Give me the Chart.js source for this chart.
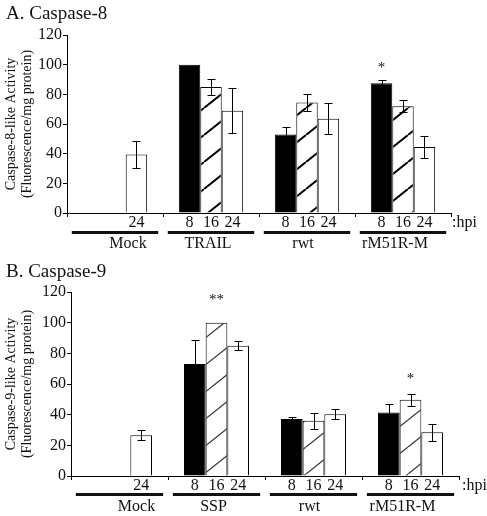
<!DOCTYPE html>
<html>
<head>
<meta charset="utf-8">
<script src="https://cdn.jsdelivr.net/npm/chart.js@4.4.1/dist/chart.umd.min.js"></script>
<style>
  body { margin: 0; background: #fff; }
  canvas { position: absolute; left: 0; }
</style>
</head>
<body>
<canvas id="chartA" width="487" height="258" style="top:0"></canvas>
<canvas id="chartB" width="487" height="258" style="top:258px"></canvas>
<script>
// hours post infection for the three bars of each group
var hpi = ["8", "16", "24"];

// A. Caspase-8
var groupsA = ["Mock", "TRAIL", "rwt", "rM51R-M"];
var a8 = [null, 100, 53, 87.5];
var a16 = [null, 85, 74.5, 72];
var a24 = [39.5, 69, 63.5, 44.5];
var a8Err = [null, null, 5, 2.5];
var a16Err = [null, 5.5, 6, 4];
var a24Err = [9.3, 15, 10.5, 7.5];
var starsA = [{ group: 3, bar: 0, text: "*", value: 100 }];

// B. Caspase-9
var groupsB = ["Mock", "SSP", "rwt", "rM51R-M"];
var b8 = [null, 73, 37.2, 41.4];
var b16 = [null, 100, 36, 49.7];
var b24 = [26.6, 85, 40.3, 28.5];
var b8Err = [null, 16, 1, 5.6];
var b16Err = [null, null, 5.4, 4];
var b24Err = [3.3, 3, 3.3, 5.4];
var starsB = [
  { group: 1, bar: 1, text: "**", value: 117 },
  { group: 3, bar: 1, text: "*", value: 65 }
];

var yTicks = [0, 20, 40, 60, 80, 100, 120];
var serif = "'Liberation Serif', 'DejaVu Serif', serif";

// diagonal hatch used for the 16 hpi bars
function hatch(lineW, color) {
  var c = document.createElement("canvas");
  c.width = 34;
  c.height = 27;
  var g = c.getContext("2d");
  g.fillStyle = "#fff";
  g.fillRect(0, 0, 34, 27);
  g.strokeStyle = color;
  g.lineWidth = lineW;
  g.beginPath();
  [-34, 0, 34].forEach(function (dx) {
    g.moveTo(dx, 27);
    g.lineTo(dx + 34, 0);
  });
  g.stroke();
  return g.createPattern(c, "repeat");
}

// error bars, hpi labels, group bars, titles
var extras = {
  id: "extras",
  afterDatasetsDraw: function (chart) {
    var o = chart.options.plugins.extras;
    var ctx = chart.ctx;
    var y = chart.scales.y;
    ctx.save();
    ctx.strokeStyle = "#000";
    ctx.lineWidth = 1;
    o.errors.forEach(function (errs, i) {
      var meta = chart.getDatasetMeta(i);
      var vals = chart.data.datasets[i].data;
      errs.forEach(function (e, j) {
        if (e == null || vals[j] == null) return;
        var x = Math.round(meta.data[j].x) + 0.5;
        var y1 = Math.round(y.getPixelForValue(vals[j] + e)) + 0.5;
        var y2 = Math.round(y.getPixelForValue(vals[j] - e)) + 0.5;
        ctx.beginPath();
        ctx.moveTo(x, y1); ctx.lineTo(x, y2);
        ctx.moveTo(x - 4, y1); ctx.lineTo(x + 4, y1);
        ctx.moveTo(x - 4, y2); ctx.lineTo(x + 4, y2);
        ctx.stroke();
      });
    });
    ctx.restore();
  },
  afterDraw: function (chart) {
    var o = chart.options.plugins.extras;
    var ctx = chart.ctx;
    var x = chart.scales.x;
    var y = chart.scales.y;
    var area = chart.chartArea;
    ctx.save();
    ctx.fillStyle = "#111";
    ctx.textAlign = "center";
    ctx.textBaseline = "middle";
    ctx.font = "16px " + serif;

    // hpi under every bar that has a value
    chart.data.datasets.forEach(function (ds, i) {
      var meta = chart.getDatasetMeta(i);
      ds.data.forEach(function (v, j) {
        if (v == null) return;
        ctx.fillText(hpi[i], meta.data[j].x, o.hpiY);
      });
    });
    ctx.textAlign = "left";
    ctx.fillText(":hpi", o.hpiX, o.hpiY);

    // thick bars and group names
    var step = x.getPixelForValue(1) - x.getPixelForValue(0);
    ctx.textAlign = "center";
    chart.data.labels.forEach(function (lab, j) {
      var cx = x.getPixelForValue(j);
      ctx.fillRect(cx - step * 0.45, o.lineY, step * 0.9, 3);
      ctx.fillText(lab, cx + o.nameShift[j], o.nameY);
    });

    // significance marks
    ctx.font = "15px " + serif;
    o.stars.forEach(function (s) {
      var bx = chart.getDatasetMeta(s.bar).data[s.group].x;
      ctx.fillText(s.text, bx, y.getPixelForValue(s.value) + 3);
    });

    // panel title
    ctx.textAlign = "left";
    ctx.textBaseline = "alphabetic";
    ctx.font = "19px " + serif;
    ctx.fillText(o.title, 6, 19);

    // y axis title, two rotated lines
    ctx.font = "14px " + serif;
    ctx.textAlign = "center";
    var my = (area.top + area.bottom) / 2;
    o.yTitle.forEach(function (t, k) {
      ctx.save();
      ctx.translate(o.yTitleX[k], my);
      ctx.rotate(-Math.PI / 2);
      ctx.textBaseline = "middle";
      ctx.fillText(t, 0, 0);
      ctx.restore();
    });
    ctx.restore();
  }
};

function makeChart(id, groups, s8, s16, s24, errs, stars, p) {
  var ctx = document.getElementById(id).getContext("2d");
  return new Chart(ctx, {
    type: "bar",
    data: {
      labels: groups,
      datasets: [
        { label: "8", data: s8, backgroundColor: "#000", borderColor: "#000", borderWidth: 1 },
        { label: "16", data: s16, backgroundColor: hatch(p.hatchW, p.hatchC), borderColor: "#000", borderWidth: 1 },
        { label: "24", data: s24, backgroundColor: "#fff", borderColor: "#000", borderWidth: 1 }
      ]
    },
    options: {
      responsive: false,
      animation: false,
      layout: { padding: { top: p.top, right: 487 - p.right, left: 0, bottom: 0 } },
      datasets: { bar: { categoryPercentage: 0.67, barPercentage: 1 } },
      scales: {
        x: {
          grid: { display: true, drawOnChartArea: false, drawTicks: true, tickLength: 4, color: "#000", offset: true },
          border: { color: "#000", width: 1 },
          ticks: { display: false },
          afterFit: function (s) { s.height = 258 - p.bottom; }
        },
        y: {
          min: 0,
          max: 120,
          afterBuildTicks: function (s) { s.ticks = yTicks.map(function (v) { return { value: v }; }); },
          grid: { drawOnChartArea: false, drawTicks: true, tickLength: 4, color: "#000" },
          border: { color: "#000", width: 1 },
          ticks: { color: "#111", font: { family: serif, size: 16 }, padding: 1 },
          afterFit: function (s) { s.width = p.left; }
        }
      },
      plugins: {
        legend: { display: false },
        tooltip: { enabled: false },
        extras: {
          errors: errs,
          stars: stars,
          title: p.title,
          yTitle: p.yTitle,
          yTitleX: [11, 27],
          hpiY: p.hpiY,
          hpiX: p.hpiX,
          lineY: p.lineY,
          nameY: p.nameY,
          nameShift: p.nameShift
        }
      }
    },
    plugins: [extras]
  });
}

makeChart("chartA", groupsA, a8, a16, a24, [a8Err, a16Err, a24Err], starsA, {
  title: "A. Caspase-8",
  yTitle: ["Caspase-8-like Activity", "(Fluorescence/mg protein)"],
  left: 67, right: 451, top: 35, bottom: 213,
  hatchW: 2, hatchC: "#000",
  hpiY: 223, hpiX: 452, lineY: 231, nameY: 244,
  nameShift: [13, -3, -4, -8]
});

makeChart("chartB", groupsB, b8, b16, b24, [b8Err, b16Err, b24Err], starsB, {
  title: "B. Caspase-9",
  yTitle: ["Caspase-9-like Activity", "(Fluorescence/mg protein)"],
  left: 71, right: 459, top: 34, bottom: 218,
  hatchW: 1.2, hatchC: "#333",
  hpiY: 228, hpiX: 462, lineY: 235, nameY: 249,
  nameShift: [17, -3, -4, -8]
});
</script>
</body>
</html>
